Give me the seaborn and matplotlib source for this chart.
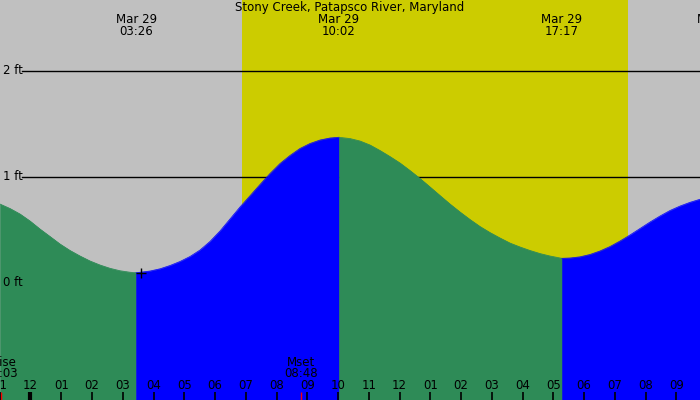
import matplotlib
matplotlib.use("Agg")
import matplotlib.pyplot as plt
import seaborn as sns
import numpy as np
import pandas as pd

# ---- data ----
title = "Stony Creek, Patapsco River, Maryland"
# hours since midnight Mar 29 (negative = previous day)
tide_hours = [-0.992, -0.667, -0.341, -0.016, 0.309, 0.634, 0.959, 1.285, 1.610,
              1.935, 2.260, 2.585, 2.911, 3.236, 3.433,
              3.886, 4.211, 4.537, 4.862, 5.187, 5.512, 5.837, 6.163, 6.488,
              6.813, 7.138, 7.463, 7.789, 8.114, 8.439, 8.764, 9.089, 9.415,
              9.740, 10.033,
              10.390, 10.715, 11.041, 11.366, 11.691, 12.016, 12.341, 12.667,
              12.992, 13.317, 13.642, 13.967, 14.293, 14.618, 14.943, 15.268,
              15.593, 15.919, 16.244, 16.569, 16.894, 17.283,
              17.545, 17.870, 18.195, 18.520, 18.846, 19.171, 19.496, 19.821,
              20.146, 20.472, 20.797, 21.122, 21.447, 21.772]
tide_ft = [0.745, 0.703, 0.651, 0.585, 0.509, 0.439, 0.368, 0.307, 0.255,
           0.208, 0.170, 0.139, 0.116, 0.102, 0.097,
           0.113, 0.134, 0.165, 0.203, 0.250, 0.311, 0.392, 0.491, 0.604,
           0.717, 0.823, 0.929, 1.033, 1.127, 1.203, 1.269, 1.316, 1.349,
           1.368, 1.375,
           1.363, 1.340, 1.302, 1.250, 1.193, 1.132, 1.061, 0.986,
           0.906, 0.825, 0.745, 0.670, 0.599, 0.533, 0.476, 0.425,
           0.377, 0.340, 0.307, 0.278, 0.255, 0.233,
           0.236, 0.247, 0.269, 0.302, 0.344, 0.396, 0.453, 0.514,
           0.575, 0.632, 0.684, 0.726, 0.761, 0.790]
extreme_hours = [3.433, 10.033, 17.283, 22.33]
extreme_dates = ["Mar 29", "Mar 29", "Mar 29", "Mar 29"]
extreme_times = ["03:26", "10:02", "17:17", "22:20"]
sunrise_h = 6.87
sunset_h = 19.42
moon_events = ["Mrise", "Mset"]
moon_hours = [-0.95, 8.80]
moon_times = ["23:03", "08:48"]
marker_h = 3.59
marker_ft = 0.09
tick_hours = list(range(-1, 22))
tick_labels = ["11", "12", "01", "02", "03", "04", "05", "06", "07", "08", "09",
               "10", "11", "12", "01", "02", "03", "04", "05", "06", "07", "08", "09"]
grid_ft = [1, 2]
grid_labels = ["0 ft", "1 ft", "2 ft"]
grid_label_ft = [0, 1, 2]

df = pd.DataFrame({"hour": tide_hours, "ft": tide_ft})

GRAY = "#c0c0c0"
YELLOW = "#cccc00"
GREEN = "#2e8b57"
BLUE = "#0000ff"

W, H = 700, 400
fig = plt.figure(figsize=(7, 4), dpi=100)
ax = fig.add_axes([0, 0, 1, 1])
ax.set_facecolor(GRAY)
fig.patch.set_facecolor(GRAY)

a_px, b_px = 30.5, 30.75
x0 = -a_px / b_px
x1 = (W - a_px) / b_px
ax.set_xlim(x0, x1)
y_top = 283 / 106
y_bot = (283 - H) / 106
ax.set_ylim(y_bot, y_top)

ax.axvspan(sunrise_h, sunset_h, color=YELLOW, lw=0, zorder=0)

for g in grid_ft:
    ax.axhline(g, xmin=22 / W, xmax=1, color="black", lw=1.0, zorder=1)

# fills: falling = green, rising = blue
hrs = np.array(df["hour"])
fts = np.array(df["ft"])
bounds = [0] + [int(np.argmin(np.abs(hrs - e))) for e in extreme_hours[:3]] + [len(hrs) - 1]
for k in range(len(bounds) - 1):
    i0, i1 = bounds[k], bounds[k + 1]
    col = GREEN if k % 2 == 0 else BLUE
    ax.fill_between(hrs[i0:i1 + 1], fts[i0:i1 + 1], y_bot - 1, facecolor=col,
                    edgecolor=col, lw=0.4, zorder=2 + 0.1 * k)
    sns.lineplot(x=hrs[i0:i1 + 1], y=fts[i0:i1 + 1], color=col, lw=0.5, ax=ax,
                 zorder=3, estimator=None, sort=False)

ax.plot([marker_h], [marker_ft], marker="+", color="black", ms=7, mew=1.0, zorder=5)

xt = ax.get_xaxis_transform()
fs = 8.5
fam = "DejaVu Sans"

def yfrac(px):
    return 1 - px / H

ax.text(0.5, yfrac(8), title, transform=ax.transAxes, ha="center", va="center",
        fontsize=fs, family=fam, zorder=6)
for h, d, t in zip(extreme_hours, extreme_dates, extreme_times):
    ax.text(h, yfrac(19.5), d, transform=xt, ha="center", va="center", fontsize=fs, family=fam, zorder=6)
    ax.text(h, yfrac(31.5), t, transform=xt, ha="center", va="center", fontsize=fs, family=fam, zorder=6)

for lab, f in zip(grid_labels, grid_label_ft):
    ax.text(3 / W, f, lab, transform=ax.get_yaxis_transform(), ha="left", va="center",
            fontsize=fs, family=fam, zorder=6)

for name, h, t in zip(moon_events, moon_hours, moon_times):
    ax.text(h, yfrac(362), name, transform=xt, ha="center", va="center", fontsize=fs, family=fam, zorder=6)
    ax.text(h, yfrac(373.5), t, transform=xt, ha="center", va="center", fontsize=fs, family=fam, zorder=6)
    ax.vlines(h, 0, 8 / H, transform=xt, color="red", lw=1.0, zorder=6)

for h, lab in zip(tick_hours, tick_labels):
    lw = 3.0 if h == 0 else 1.2
    ax.vlines(h, 0, 8 / H, transform=xt, color="black", lw=lw, zorder=6)
    ax.text(h, yfrac(385.5), lab, transform=xt, ha="center", va="center", fontsize=fs, family=fam, zorder=6)

ax.set_xticks([])
ax.set_yticks([])
for s in ax.spines.values():
    s.set_visible(False)
legend = ax.get_legend()
if legend:
    legend.remove()

fig.savefig("out.png", dpi=100, facecolor=GRAY)
